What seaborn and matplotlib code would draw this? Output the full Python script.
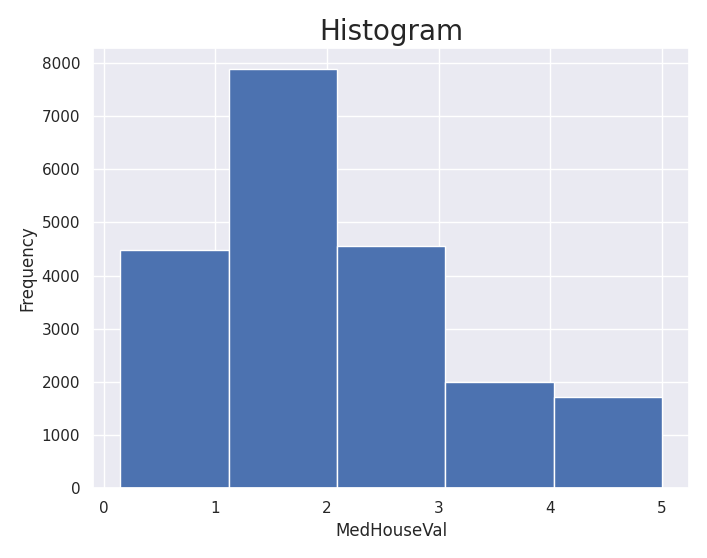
import matplotlib
matplotlib.use('Agg')
import matplotlib.pyplot as plt
import seaborn as sns
import numpy as np

# histogram bins
bin_edges = [0.15, 1.12, 2.09, 3.06, 4.03, 5.0]
bin_counts = [4490, 7880, 4560, 1990, 1720]

sns.set_theme(style='darkgrid')

edges = np.array(bin_edges)
centers = (edges[:-1] + edges[1:]) / 2

fig, ax = plt.subplots(figsize=(7.07, 5.58), dpi=100)
sns.histplot(x=centers, weights=bin_counts, bins=list(bin_edges), ax=ax,
             color='#4C72B0', alpha=1, edgecolor='white', linewidth=1)
ax.set_title('Histogram', fontsize=20)
ax.set_xlabel('MedHouseVal')
ax.set_ylabel('Frequency')
ax.set_yticks(range(0, 8001, 1000))

plt.tight_layout()
plt.savefig('out.png', dpi=100)
